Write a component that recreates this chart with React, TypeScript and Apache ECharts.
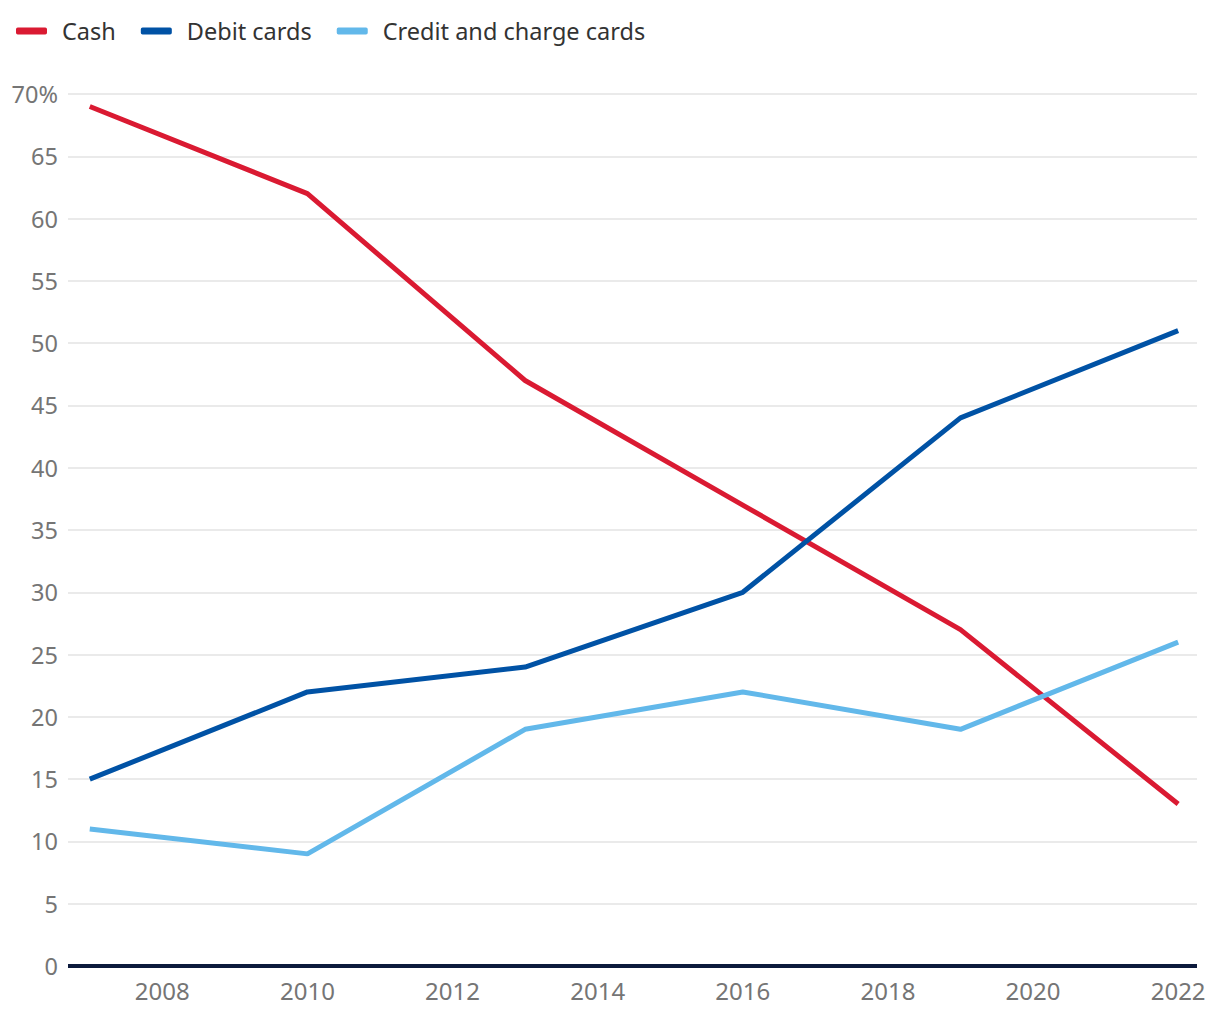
import React, { useEffect, useRef } from "react";
import * as echarts from "echarts";

const years = [2007, 2010, 2013, 2016, 2019, 2022];
const cash = [69, 62, 47, 37, 27, 13];
const debit = [15, 22, 24, 30, 44, 51];
const credit = [11, 9, 19, 22, 19, 26];
const xTicks = [2008, 2010, 2012, 2014, 2016, 2018, 2020, 2022];
const seriesNames = ["Cash", "Debit cards", "Credit and charge cards"];
const colors = ["#DA1A32", "#0052A5", "#62B8EA"];

const FONT = "Noto Sans";

export default function App() {
  const ref = useRef<HTMLDivElement>(null);
  useEffect(() => {
    if (!ref.current) return;
    const chart = echarts.init(ref.current, undefined, { renderer: "svg" });
    const mk = (vals: number[]) => years.map((y, i) => [y, vals[i]]);
    const all = [cash, debit, credit];
    chart.setOption({
      animation: false,
      backgroundColor: "#ffffff",
      textStyle: { fontFamily: FONT },
      legend: {
        left: 11,
        top: 14,
        itemWidth: 31,
        itemHeight: 7,
        itemGap: 25,
        icon: "roundRect",
        textStyle: { fontSize: 23.5, color: "#333333", fontFamily: FONT, padding: [0, 0, 0, 10] },
        data: seriesNames,
      },
      grid: { left: 68, right: 23, top: 94, bottom: 54, containLabel: false },
      xAxis: {
        type: "value",
        min: 2006.7,
        max: 2022.26,
        axisLine: { show: false },
        axisTick: { show: false },
        splitLine: { show: false },
        axisLabel: {
          customValues: xTicks,
          color: "#757575",
          fontSize: 24,
          fontFamily: FONT,
          margin: 12,
          formatter: (v: number) => String(Math.round(v)),
        },
      },
      yAxis: {
        type: "value",
        min: 0,
        max: 70,
        interval: 5,
        axisLine: { show: false },
        axisTick: { show: false },
        splitLine: { lineStyle: { color: "#e3e3e3", width: 1.5 } },
        axisLabel: {
          color: "#757575",
          fontSize: 23.5,
          fontFamily: FONT,
          margin: 10,
          formatter: (v: number) => (v === 70 ? "70%" : String(v)),
        },
      },
      series: [
        ...seriesNames.map((name, i) => ({
          name,
          type: "line",
          data: mk(all[i]),
          showSymbol: false,
          symbol: "none",
          color: colors[i],
          lineStyle: { width: 5, color: colors[i] },
          z: 3,
        })),
        {
          name: "zero",
          type: "line",
          data: [],
          markLine: {
            silent: true,
            symbol: "none",
            label: { show: false },
            lineStyle: { color: "#0C1A3C", width: 4, type: "solid" },
            data: [{ yAxis: 0 }],
          },
          z: 2,
        },
      ],
    });
    return () => chart.dispose();
  }, []);
  return (
    <div
      ref={ref}
      style={{ position: "fixed", left: 0, top: 0, width: 1220, height: 1020 }}
    />
  );
}
